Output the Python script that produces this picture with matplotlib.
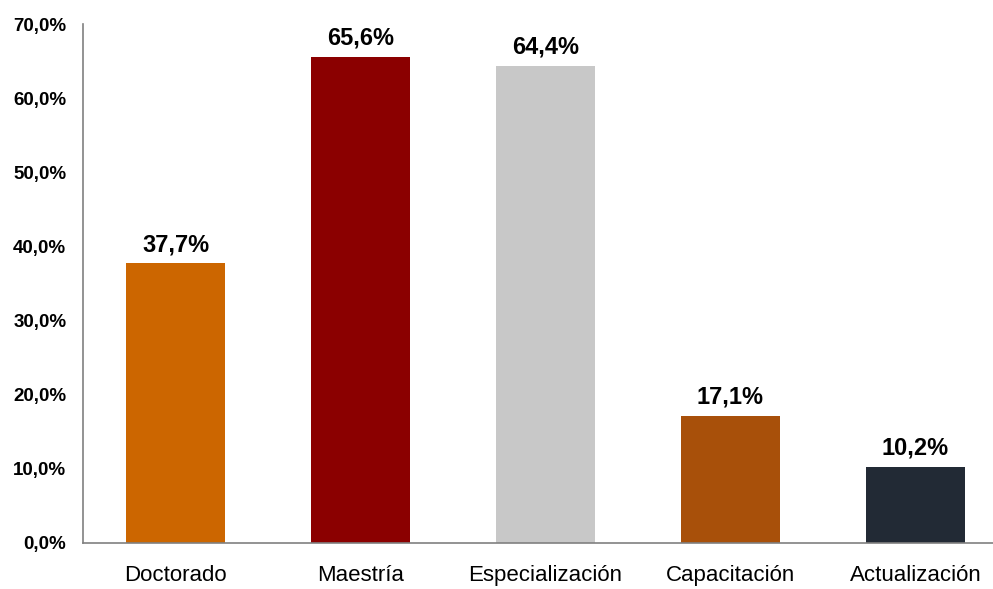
import numpy as np
from matplotlib import pyplot as plt

plt.rcParams['font.family'] = ['Liberation Sans', 'DejaVu Sans']

categorias = ['Doctorado', 'Maestría', 'Especialización', 'Capacitación', 'Actualización']
valores = [37.7, 65.6, 64.4, 17.1, 10.2]
colores = ['#CC6600', '#8B0000', '#C8C8C8', '#A8500A', '#222A35']
yticks = [0, 10, 20, 30, 40, 50, 60, 70]

fig = plt.figure(figsize=(9.93, 5.89), dpi=100)
ax = fig.add_axes([83/993, 46/589, 910/993, 519/589])

x = np.arange(len(categorias))
ax.bar(x, valores, width=0.54, color=colores)

for xi, v in zip(x, valores):
    ax.text(xi, v + 1.0, f'{v:.1f}%'.replace('.', ','), ha='center', va='bottom',
            fontsize=17, fontweight='bold')

ax.set_xlim(-0.5, -0.5 + 910/185)
ax.set_ylim(0, 70)
ax.set_xticks(x)
ax.set_xticklabels(categorias, fontsize=16)
ax.set_yticks(yticks)
ax.set_yticklabels([f'{t:.1f}%'.replace('.', ',') for t in yticks], fontsize=13.5, fontweight='bold')
ax.tick_params(axis='both', length=0)
ax.tick_params(axis='x', pad=16)
ax.tick_params(axis='y', pad=12)

for s in ['top', 'right']:
    ax.spines[s].set_visible(False)
for s in ['left', 'bottom']:
    ax.spines[s].set_color('#808080')
    ax.spines[s].set_linewidth(1.2)

plt.savefig('out.png', dpi=100)
